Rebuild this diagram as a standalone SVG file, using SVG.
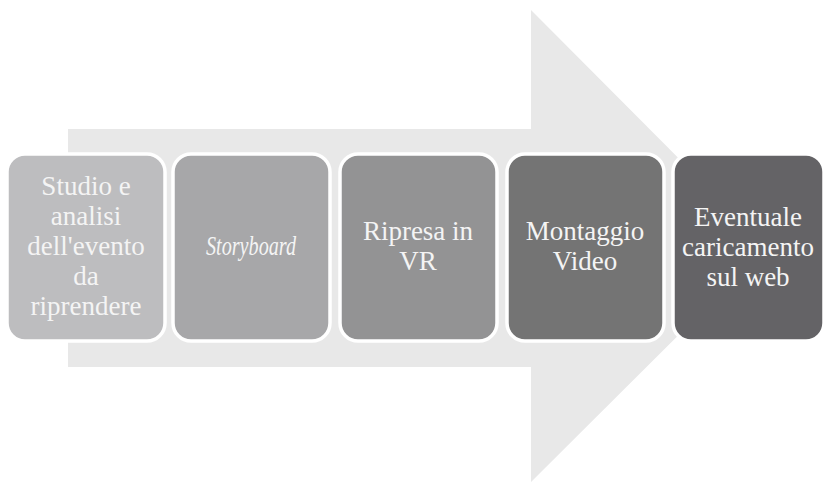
<svg xmlns="http://www.w3.org/2000/svg" width="825" height="483" viewBox="0 0 825 483">
  <style>
    .box { stroke: #ffffff; stroke-width: 3.5; }
    .lbl { font-family: "Liberation Serif", "DejaVu Serif", serif; font-size: 27px; fill: #f4f4f4; text-anchor: middle; }
    .it { font-style: italic; }
  </style>
  <rect width="825" height="483" fill="#ffffff"/>
  <g id="arrow">
    <polygon points="68,129 531,129 531,10 767,247 531,482 531,367 68,367" fill="#e8e8e8"/>
  </g>
  <g id="connectors"></g>
  <g id="n1">
    <rect class="box" x="7" y="154" width="158" height="187" rx="18" ry="18" fill="#bdbdbf"/>
    <text class="lbl" x="86" y="195">Studio e</text>
    <text class="lbl" x="86" y="225">analisi</text>
    <text class="lbl" x="86" y="255">dell'evento</text>
    <text class="lbl" x="86" y="285">da</text>
    <text class="lbl" x="86" y="315">riprendere</text>
  </g>
  <g id="n2">
    <rect class="box" x="173" y="154" width="157" height="187" rx="18" ry="18" fill="#a7a7a9"/>
    <text class="lbl it" x="251" y="255" textLength="90" lengthAdjust="spacingAndGlyphs">Storyboard</text>
  </g>
  <g id="n3">
    <rect class="box" x="340" y="154" width="157" height="187" rx="18" ry="18" fill="#939394"/>
    <text class="lbl" x="418" y="240">Ripresa in</text>
    <text class="lbl" x="418" y="270">VR</text>
  </g>
  <g id="n4">
    <rect class="box" x="507" y="154" width="157" height="187" rx="18" ry="18" fill="#747474"/>
    <text class="lbl" x="585" y="240">Montaggio</text>
    <text class="lbl" x="585" y="270">Video</text>
  </g>
  <g id="n5">
    <rect class="box" x="673" y="154" width="151" height="187" rx="18" ry="18" fill="#646366"/>
    <text class="lbl" x="748" y="226">Eventuale</text>
    <text class="lbl" x="748" y="256">caricamento</text>
    <text class="lbl" x="748" y="286">sul web</text>
  </g>
</svg>
